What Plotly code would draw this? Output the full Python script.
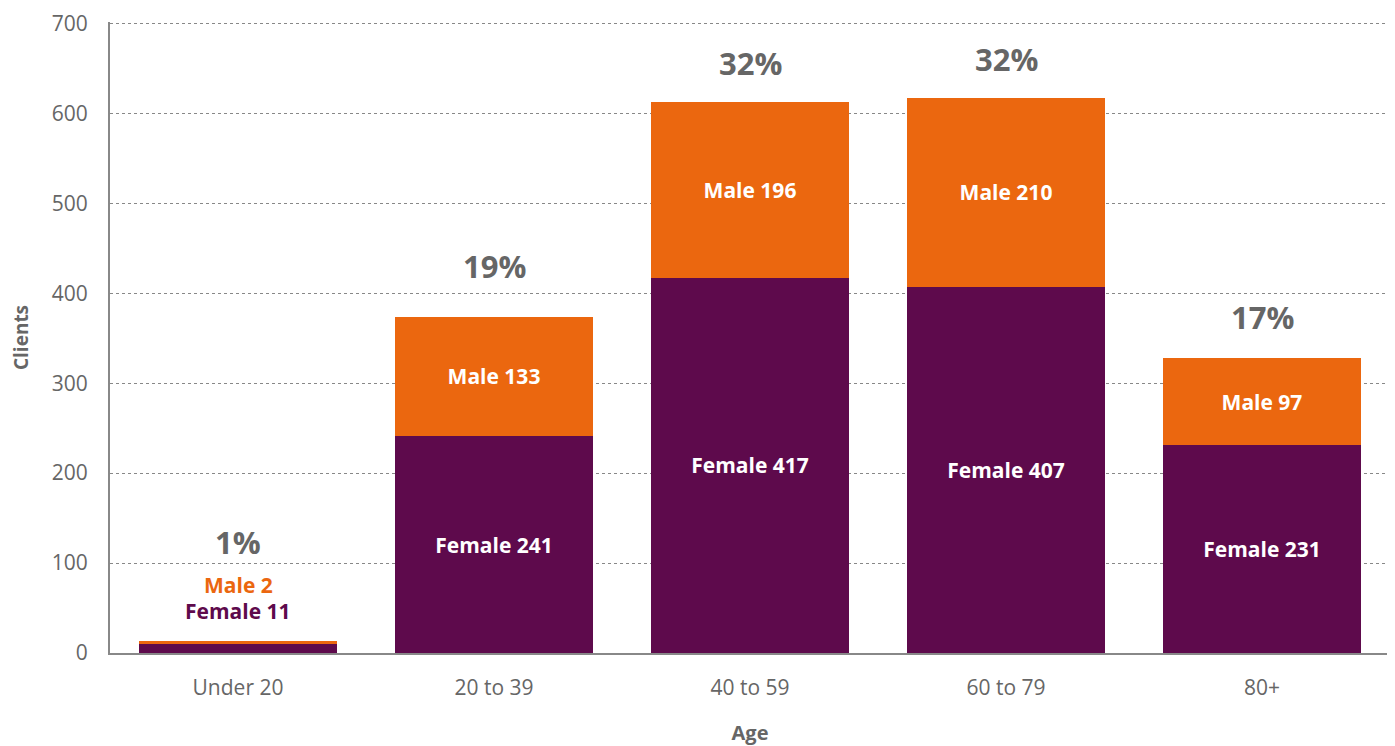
import plotly.graph_objects as go

categories = ["Under 20", "20 to 39", "40 to 59", "60 to 79", "80+"]
female = [11, 241, 417, 407, 231]
male = [2, 133, 196, 210, 97]
pct_labels = ["1%", "19%", "32%", "32%", "17%"]

PURPLE = "#5E0A4C"
ORANGE = "#EB670F"
GREY = "#666666"
FONT = "Open Sans"

totals = [f + m for f, m in zip(female, male)]
small = [t < 50 for t in totals]

fig = go.Figure()
fig.add_trace(go.Bar(
    x=categories, y=female, name="Female", marker=dict(color=PURPLE, line=dict(width=0)),
    text=["" if s else f"Female {v}" for v, s in zip(female, small)],
    textposition="inside", insidetextanchor="middle",
    textfont=dict(color="white", size=21, family=FONT, weight="bold"),
    hoverinfo="skip",
))
fig.add_trace(go.Bar(
    x=categories, y=male, name="Male", marker=dict(color=ORANGE, line=dict(width=0)),
    text=["" if s else f"Male {v}" for v, s in zip(male, small)],
    textposition="inside", insidetextanchor="middle",
    textfont=dict(color="white", size=21, family=FONT, weight="bold"),
    hoverinfo="skip",
))

pct_shift = [0, 12, 0, 0, 2]
for i, (c, t, p, s) in enumerate(zip(categories, totals, pct_labels, small)):
    if s:
        fig.add_annotation(x=c, y=t, yref="y", text=f"Female {female[i]}", showarrow=False,
                           yanchor="bottom", yshift=14,
                           font=dict(color=PURPLE, size=21, family=FONT, weight="bold"))
        fig.add_annotation(x=c, y=t, yref="y", text=f"Male {male[i]}", showarrow=False,
                           yanchor="bottom", yshift=40,
                           font=dict(color=ORANGE, size=21, family=FONT, weight="bold"))
        fig.add_annotation(x=c, y=t, yref="y", text=p, showarrow=False,
                           yanchor="bottom", yshift=76,
                           font=dict(color=GREY, size=31, family=FONT, weight="bold"))
    else:
        fig.add_annotation(x=c, y=t, yref="y", text=p, showarrow=False,
                           yanchor="bottom", yshift=16 + pct_shift[i],
                           font=dict(color=GREY, size=31, family=FONT, weight="bold"))

# page body has an 8px margin; size the figure so the plot area lands where the reference's does
fig.update_layout(
    barmode="stack",
    bargap=0.23,
    width=1387, height=738,
    margin=dict(l=102, r=5, t=14, b=93),
    plot_bgcolor="white", paper_bgcolor="white",
    showlegend=False,
    font=dict(family=FONT, color=GREY),
)
fig.update_xaxes(
    automargin=False,
    showline=True, linecolor="#888888", linewidth=2,
    showgrid=False, ticks="", tickfont=dict(size=21, color=GREY, family=FONT),
    ticklabelstandoff=15,
    title=dict(text="Age", font=dict(size=20, color=GREY, family=FONT, weight="bold"), standoff=30),
)
fig.update_yaxes(
    automargin=False,
    range=[0, 701.5], tickvals=[0, 100, 200, 300, 400, 500, 600, 700],
    showline=True, linecolor="#888888", linewidth=2,
    showgrid=True, gridcolor="#888888", gridwidth=1, griddash="dot",
    zeroline=False, ticks="",
    tickfont=dict(size=21, color=GREY, family=FONT),
    ticklabelstandoff=16, ticklabeloverflow="allow",
    title=dict(text="Clients", font=dict(size=19, color=GREY, family=FONT, weight="bold"), standoff=30),
)

fig.write_html("out.html")
